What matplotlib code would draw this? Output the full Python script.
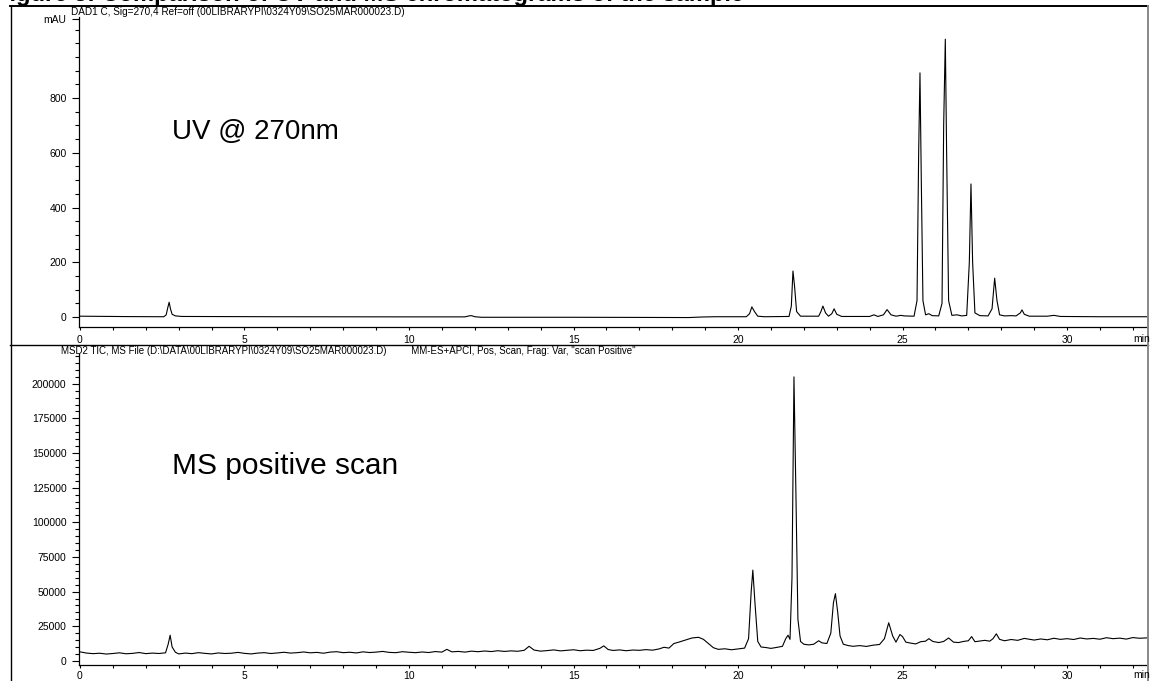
import numpy as np
import matplotlib.pyplot as plt
from matplotlib.lines import Line2D
from matplotlib.ticker import MultipleLocator, FixedLocator

plt.rcParams['font.family'] = ['Liberation Sans', 'DejaVu Sans']

# UV trace @ 270 nm (min, mAU)
uv_time = [0.0, 0.5, 1.5, 2.55, 2.62, 2.67, 2.71, 2.75, 2.8, 2.9, 3.1, 6.0, 10.0,
           11.7, 11.82, 11.9, 12.0, 12.2, 15.0, 17.0, 18.5, 18.9, 19.3,
           20.25, 20.35, 20.42, 20.5, 20.6, 20.8,
           21.55, 21.62, 21.67, 21.72, 21.78, 21.9,
           22.45, 22.52, 22.58, 22.66, 22.75, 22.85, 22.92, 23.0, 23.15,
           24.0, 24.13, 24.25, 24.42, 24.53, 24.65, 24.8, 24.95, 25.05,
           25.35, 25.44, 25.49, 25.53, 25.57, 25.62, 25.7, 25.8, 25.9,
           26.1, 26.2, 26.25, 26.3, 26.34, 26.4, 26.5, 26.65, 26.8,
           26.95, 27.03, 27.08, 27.13, 27.2, 27.35, 27.6,
           27.72, 27.8, 27.87, 27.95, 28.1, 28.3, 28.45,
           28.58, 28.63, 28.7, 28.85, 29.4, 29.6, 29.8, 31.0, 32.5]
uv_signal = [3, 2.5, 1.5, 1, 8, 35, 54, 30, 10, 4, 2, 1, 0.5,
             0.5, 4, 5, 1, -1, -1, -1.5, -2, 0, 1,
             1, 12, 37, 20, 3, 1,
             2, 40, 168, 110, 20, 3,
             3, 20, 40, 15, 3, 12, 30, 10, 2,
             2, 8, 2, 8, 27, 8, 3, 6, 4,
             3, 60, 600, 892, 500, 60, 8, 12, 5,
             4, 50, 700, 1015, 600, 60, 6, 8, 4,
             6, 200, 486, 200, 15, 5, 4,
             30, 142, 60, 8, 4, 5, 4,
             15, 26, 10, 3, 3, 6, 2, 1, 1]

# MS positive scan TIC (min, counts)
ms_time = [0.0, 0.2, 0.4, 0.6, 0.8, 1.0, 1.2, 1.4, 1.6, 1.8, 2.0, 2.2, 2.4, 2.6,
           2.68, 2.74, 2.8, 2.9, 3.0, 3.2, 3.4, 3.6, 3.8, 4.0, 4.2, 4.4, 4.6, 4.8,
           5.0, 5.2, 5.4, 5.6, 5.8, 6.0, 6.2, 6.4, 6.6, 6.8, 7.0, 7.2, 7.4, 7.6,
           7.8, 8.0, 8.2, 8.4, 8.6, 8.8, 9.0, 9.2, 9.4, 9.6, 9.8, 10.0, 10.2,
           10.4, 10.6, 10.8, 11.0, 11.15, 11.3, 11.5, 11.7, 11.9, 12.1, 12.3,
           12.5, 12.7, 12.9, 13.1, 13.3, 13.5, 13.65, 13.8, 14.0, 14.2, 14.4,
           14.6, 14.8, 15.0, 15.2, 15.4, 15.6, 15.8, 15.92, 16.05, 16.2, 16.4,
           16.6, 16.8, 17.0, 17.2, 17.4, 17.6, 17.75, 17.9, 18.05, 18.2, 18.4,
           18.6, 18.8, 18.95, 19.1, 19.25, 19.4, 19.6, 19.8, 20.0, 20.2, 20.32,
           20.4, 20.45, 20.52, 20.6, 20.7, 20.85, 21.0, 21.2, 21.35, 21.45,
           21.52, 21.58, 21.64, 21.7, 21.76, 21.82, 21.9, 22.0, 22.15, 22.3,
           22.45, 22.55, 22.7, 22.82, 22.9, 22.96, 23.03, 23.1, 23.2, 23.35,
           23.5, 23.7, 23.9, 24.1, 24.3, 24.45, 24.58, 24.7, 24.8, 24.92, 25.0,
           25.1, 25.25, 25.4, 25.55, 25.7, 25.8, 25.92, 26.1, 26.25, 26.4,
           26.55, 26.7, 26.85, 27.0, 27.1, 27.2, 27.35, 27.5, 27.65, 27.75,
           27.85, 27.95, 28.1, 28.3, 28.5, 28.7, 28.85, 29.0, 29.2, 29.4, 29.6,
           29.8, 30.0, 30.2, 30.4, 30.6, 30.8, 31.0, 31.2, 31.4, 31.6, 31.8,
           32.0, 32.2, 32.45]
ms_signal = [6500, 5600, 5200, 5500, 4900, 5300, 5800, 5100, 5400, 6000, 5200, 5600, 5300, 5800,
             12000, 18500, 10000, 6200, 5000, 5600, 5200, 5900, 5400, 5000, 5700, 5300, 5500, 6100,
             5400, 5000, 5600, 5900, 5300, 5700, 6200, 5600, 5900, 6400, 5800, 6100, 5500, 6300,
             6600, 5900, 6200, 5700, 6500, 6000, 6300, 6800, 6100, 5900, 6600, 6200, 5900,
             6400, 6000, 6700, 6300, 8300, 6500, 6800, 6300, 7000, 6600, 7100,
             6700, 7300, 6800, 7200, 6900, 7600, 10500, 7800, 7000, 7400, 7900,
             7200, 7600, 8000, 7300, 7700, 7500, 9000, 10800, 8200, 7500, 7900,
             7300, 7800, 7600, 8100, 7700, 8600, 9800, 9200, 12500, 13500, 15000,
             16500, 17000, 15500, 12500, 9500, 8300, 8700, 8000, 8600, 9200, 16000,
             50000, 65500, 40000, 14000, 10000, 9600, 9000, 9800, 10500, 16000,
             18500, 15500, 60000, 205000, 120000, 30000, 14000, 12000, 11500, 12000,
             14500, 13000, 12500, 20000, 42000, 48500, 35000, 18000, 12000, 11000,
             10500, 11000, 10400, 11300, 11800, 16000, 27500, 18000, 13500, 19000, 17500,
             13500, 12800, 12200, 13800, 14200, 16000, 14000, 13200, 14000, 16500,
             13500, 13200, 14000, 14500, 17500, 13800, 14300, 14800, 14200, 16000,
             19500, 15500, 14500, 15400, 14800, 16200, 15600, 15000, 15800, 15200, 16300,
             15500, 16000, 15400, 16500, 15800, 16200, 15600, 16700, 16000, 16400, 15700,
             16800, 16300, 16600]

uv_ticks = [0, 200, 400, 600, 800]
ms_ticks = [0, 25000, 50000, 75000, 100000, 125000, 150000, 175000, 200000]
x_ticks = [0, 5, 10, 15, 20, 25, 30]

W, H = 1157, 681
fig = plt.figure(figsize=(W / 100, H / 100), dpi=100)


def px_box(left, top, right, bottom):
    return [left / W, 1 - bottom / H, (right - left) / W, (bottom - top) / H]


def style_axes(ax, xpad):
    for s in ['top', 'right']:
        ax.spines[s].set_visible(False)
    for s in ['left', 'bottom']:
        ax.spines[s].set_linewidth(0.9)
    ax.set_xlim(-0.03, 32.43)
    ax.xaxis.set_major_locator(FixedLocator(x_ticks))
    ax.xaxis.set_minor_locator(MultipleLocator(1))
    ax.tick_params(axis='x', which='major', length=2.5, width=0.8, pad=xpad, labelsize=7.5)
    ax.tick_params(axis='x', which='minor', length=2.5, width=0.8)
    ax.tick_params(axis='y', which='major', length=5, width=0.8, pad=4, labelsize=7.5)
    ax.tick_params(axis='y', which='minor', length=3, width=0.8)


ax1 = fig.add_axes(px_box(79, 17, 1147, 327))
ax1.plot(uv_time, uv_signal, color='black', lw=0.8)
style_axes(ax1, 3)
ax1.set_ylim(-36.5, 1096)
ax1.yaxis.set_major_locator(FixedLocator(uv_ticks + [1088]))
ax1.set_yticklabels([str(v) for v in uv_ticks] + ['mAU'])
ax1.yaxis.set_minor_locator(FixedLocator(np.arange(50, 1051, 50)))
ax1.text(0.087, 0.63, 'UV @ 270nm', transform=ax1.transAxes, fontsize=20, va='center')

ax2 = fig.add_axes(px_box(79, 354, 1147, 665))
ax2.plot(ms_time, ms_signal, color='black', lw=0.8)
style_axes(ax2, 2)
ax2.set_ylim(-3000, 221500)
ax2.yaxis.set_major_locator(FixedLocator(ms_ticks))
ax2.yaxis.set_minor_locator(MultipleLocator(5000))
ax2.text(0.087, 0.64, 'MS positive scan', transform=ax2.transAxes, fontsize=21.5, va='center')

# "min" unit at the right end of both time axes
fig.text(1133 / W, 1 - 339 / H, 'min', fontsize=7.5, va='center')
fig.text(1133 / W, 1 - 675.5 / H, 'min', fontsize=7.5, va='center')

# headers
fig.text(71 / W, 1 - 12 / H, 'DAD1 C, Sig=270,4 Ref=off (00LIBRARYPI\\0324Y09\\SO25MAR000023.D)',
         fontsize=7.2, va='center')
fig.text(61 / W, 1 - 351 / H,
         'MSD2 TIC, MS File (D:\\DATA\\00LIBRARYPI\\0324Y09\\SO25MAR000023.D)         '
         'MM-ES+APCI, Pos, Scan, Frag: Var, "scan Positive"',
         fontsize=7, va='center')

# cut-off figure caption above the frame
fig.text(-5 / W, 1 - 0.5 / H, 'Figure 3: Comparison of UV and MS chromatograms of the sample',
         fontsize=17, fontweight='bold', va='baseline')


# frame lines
def hline(y, x0, x1, color='black', lw=1.0):
    fig.add_artist(Line2D([x0 / W, x1 / W], [1 - y / H, 1 - y / H], color=color, lw=lw))


def vline(x, y0, y1, color='black', lw=1.0):
    fig.add_artist(Line2D([x / W, x / W], [1 - y0 / H, 1 - y1 / H], color=color, lw=lw))


hline(6, 10, 1148, lw=1.4)
hline(345, 10, 1148, lw=1.0)
vline(10.5, 6, 681, lw=1.0)
vline(1148, 6, 681, color='#888888', lw=1.4)

fig.savefig('out.png', dpi=100)
